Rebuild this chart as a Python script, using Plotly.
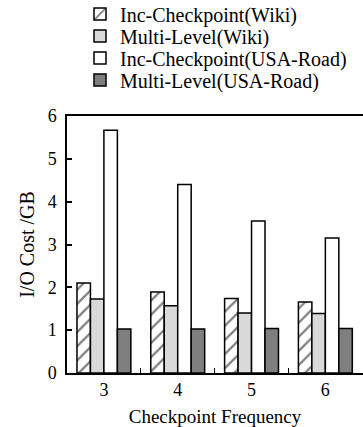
import plotly.graph_objects as go

frequencies = [3, 4, 5, 6]
inc_wiki = [2.10, 1.89, 1.74, 1.66]
ml_wiki = [1.73, 1.57, 1.40, 1.39]
inc_road = [5.67, 4.40, 3.55, 3.15]
ml_road = [1.03, 1.03, 1.04, 1.04]
series_names = ["Inc-Checkpoint(Wiki)", "Multi-Level(Wiki)",
                "Inc-Checkpoint(USA-Road)", "Multi-Level(USA-Road)"]
y_ticks = [0, 1, 2, 3, 4, 5, 6]
boundary_ticks = [3.5, 4.5, 5.5]
x_range = [2.5, 6.51]

FONT = "Liberation Serif, serif"
line = dict(color="black", width=1.5)
legend_ids = ["legend", "legend2", "legend3", "legend4"]

fig = go.Figure()
fig.add_bar(x=frequencies, y=inc_wiki, name=series_names[0], legend=legend_ids[0],
            marker=dict(color="white", line=line,
                        pattern=dict(shape="/", fgcolor="black", bgcolor="white",
                                     size=10, solidity=0.22)))
fig.add_bar(x=frequencies, y=ml_wiki, name=series_names[1], legend=legend_ids[1],
            marker=dict(color="#d9d9d9", line=line))
fig.add_bar(x=frequencies, y=inc_road, name=series_names[2], legend=legend_ids[2],
            marker=dict(color="white", line=line))
fig.add_bar(x=frequencies, y=ml_road, name=series_names[3], legend=legend_ids[3],
            marker=dict(color="#7f7f7f", line=line))

# invisible trace to carry the between-group ticks on a second x axis
fig.add_scatter(x=boundary_ticks, y=[0, 0, 0], xaxis="x2", mode="markers",
                marker=dict(opacity=0), showlegend=False, hoverinfo="skip")

L, T, B = 67, 116, 54
PH = 427 - T - B
PW = 363 - L

legend_rows_px = [14, 36, 58, 80]
legend_left_px = 80
legends = {}
for lid, row in zip(legend_ids, legend_rows_px):
    legends[lid] = dict(x=(legend_left_px - L) / PW, xanchor="left",
                        y=1 + (T - row) / PH, yanchor="middle",
                        font=dict(size=20, family=FONT, color="black"),
                        bgcolor="rgba(0,0,0,0)", borderwidth=0)

fig.update_layout(
    width=363, height=427,
    margin=dict(l=L, r=0, t=T, b=B, autoexpand=False),
    paper_bgcolor="white", plot_bgcolor="white",
    barmode="group", bargap=0.27, bargroupgap=0,
    font=dict(family=FONT, size=18, color="black"),
    xaxis=dict(range=x_range, tickvals=frequencies,
               ticktext=[str(f) for f in frequencies], ticks="",
               showline=True, linecolor="black", linewidth=1.5, mirror=True,
               showgrid=False, zeroline=False,
               title=dict(text="Checkpoint Frequency", font=dict(size=19), standoff=16)),
    xaxis2=dict(overlaying="x", range=x_range, tickvals=boundary_ticks, ticks="inside",
                ticklen=5, tickcolor="black", tickwidth=1.2, showticklabels=False,
                showgrid=False, zeroline=False, side="bottom", anchor="y"),
    yaxis=dict(range=[0, 6], tickvals=y_ticks, ticks="inside", ticklen=5,
               tickcolor="black", tickwidth=1.5, ticklabelstandoff=5,
               showline=True, linecolor="black", linewidth=1.5, mirror=True,
               showgrid=False, zeroline=False,
               title=dict(text="I/O Cost /GB", font=dict(size=20), standoff=8)),
    **legends,
)

fig.write_html("out.html")
